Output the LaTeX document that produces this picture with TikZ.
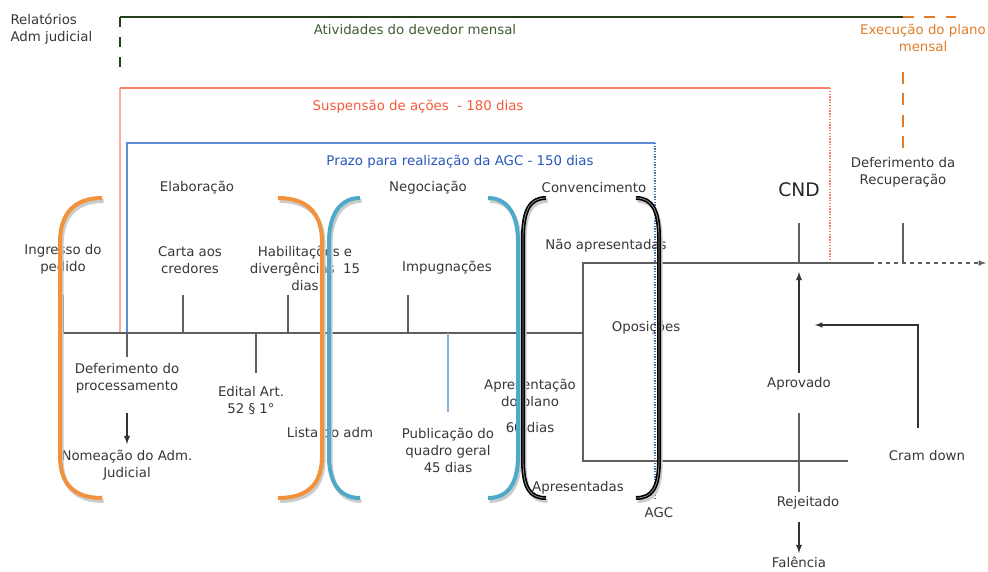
\documentclass[tikz,border=0pt]{standalone}
\usepackage{fontspec}
\setmainfont{DejaVu Sans}
\usepackage{tikz}
\definecolor{txtgray}{RGB}{55,55,55}
\definecolor{lngray}{RGB}{95,95,95}
\definecolor{dgreen}{RGB}{34,62,26}
\definecolor{tgreen}{RGB}{62,92,52}
\definecolor{planorange}{RGB}{222,126,42}
\definecolor{brorange}{RGB}{242,146,62}
\definecolor{salmon}{RGB}{250,128,108}
\definecolor{salmonlt}{RGB}{250,170,160}
\definecolor{tsalmon}{RGB}{248,88,58}
\definecolor{agcblue}{RGB}{96,140,214}
\definecolor{tblue}{RGB}{40,86,186}
\definecolor{brteal}{RGB}{78,170,200}
\definecolor{ltblue}{RGB}{140,178,226}
\tikzset{every picture/.style={line width=0.75pt}}
\tikzset{
txt/.style={align=center, inner sep=0pt, text=txtgray, font=\fontsize{10}{12.75}\selectfont},
tick/.style={draw=lngray, line width=1.1pt},
flow/.style={draw=lngray, line width=0.9pt},
arrw/.style={draw=black!80, line width=1.1pt, -latex},
brkt/.style={line width=3pt, preaction={draw=black!20, line width=3pt, transform canvas={xshift=1.2pt, yshift=-2.2pt}}}
}

\begin{document}
\begin{tikzpicture}[x=0.75pt,y=0.75pt,yscale=-1,xscale=1]
\useasboundingbox (0,0) rectangle (988,571);

%Straight Lines: devedor mensal
\draw[dgreen, line width=1.6pt] (120,17) -- (903,17) ;
\draw[dgreen, line width=2pt, dash pattern=on 7.5pt off 7.5pt] (120,17) -- (120,73) ;
%Straight Lines: execucao do plano
\draw[planorange, line width=2pt, dash pattern=on 8pt off 8pt] (903,17) -- (962,17) ;
\draw[planorange, line width=2pt, dash pattern=on 9pt off 7pt] (903,72) -- (903,153) ;
%Straight Lines: suspensao
\draw[salmonlt, line width=1.1pt] (120,333) -- (120,88) ;
\draw[salmon, line width=1.1pt] (120,88) -- (830,88) ;
\draw[salmon, line width=1.1pt, densely dotted] (830,88) -- (830,263) ;
%Straight Lines: prazo AGC
\draw[agcblue, line width=1.1pt] (127,333) -- (127,143) -- (655,143) ;
\draw[agcblue!80!black, line width=1pt, densely dotted] (655,143) -- (655,500) ;

%Straight Lines: timeline
\draw[tick] (63,333) -- (583,333) ;
\draw[tick] (63,333) -- (63,295) ;
\draw[tick] (183,333) -- (183,295) ;
\draw[tick] (288,333) -- (288,295) ;
\draw[tick] (408,333) -- (408,295) ;
\draw[tick] (127,333) -- (127,357) ;
\draw[tick] (256,333) -- (256,373) ;
\draw[ltblue, line width=1pt] (448,333) -- (448,412) ;

%Straight Lines: AGC
\draw[flow] (870,263) -- (583,263) -- (583,461) -- (848,461) ;
\draw[flow, dashed, -latex] (870,263) -- (986,263) ;
\draw[flow] (799,263) -- (799,223) ;
\draw[flow] (903,263) -- (903,223) ;

% Text Node
\node[txt, anchor=west, align=left] (relat) at (10,29) {Relatórios\\Adm judicial};
\node[txt, text=tgreen] (ativ) at (415,30) {Atividades do devedor mensal};
\node[txt, text=planorange] (exec) at (923,38) {Execução do plano\\mensal};
\node[txt, text=tsalmon] (susp) at (418,107) {Suspensão de ações\ \ - 180 dias};
\node[txt, text=tblue] (prazo) at (460,162) {Prazo para realização da AGC - 150 dias};
\node[txt] (elab) at (197,188) {Elaboração};
\node[txt] (negoc) at (428,188) {Negociação};
\node[txt] (conv) at (594,188) {Convencimento};
\node[txt, font=\fontsize{14}{16}\selectfont, text=black!85] (cnd) at (799,190) {CND};
\node[txt] (defrec) at (903,172) {Deferimento da\\Recuperação};
\node[txt] (ingresso) at (63,259) {Ingresso do\\pedido};
\node[txt] (carta) at (190,260) {Carta aos\\credores};
\node[txt] (habil) at (305,268) {Habilitações e\\divergências\ \ 15\\dias};
\node[txt] (impug) at (447,268) {Impugnações};
\node[txt] (naoapr) at (606,246) {Não apresentadas};
\node[txt] (oposic) at (646,328) {Oposições};
\node[txt] (deferproc) at (127,378) {Deferimento do\\processamento};
\node[txt] (edital) at (251,401) {Edital Art.\\52 § 1°};
\node[txt] (lista) at (330,433) {Lista do adm};
\node[txt] (public) at (448,450) {Publicação do\\quadro geral\\45 dias};
\node[txt] (apres) at (530,394) {Apresentação\\do plano};
\node[txt] (sessenta) at (530,428) {60 dias};
\node[txt] (apresentadas) at (578,488) {Apresentadas};
\node[txt] (agc) at (659,513) {AGC};
\node[txt] (nomeacao) at (127,465) {Nomeação do Adm.\\Judicial};
\node[txt] (aprovado) at (799,384) {Aprovado};
\node[txt] (rejeitado) at (808,503) {Rejeitado};
\node[txt] (falencia) at (799,562) {Falência};
\node[txt] (cram) at (927,456) {Cram down};

%Coordinates for connectors
\coordinate (nomTop) at (127,413) ;
\coordinate (nomTip) at (127,444) ;
\coordinate (aprBase) at (799,373) ;
\coordinate (aprTip) at (799,272) ;
\coordinate (rejTop) at (799,413) ;
\coordinate (rejBot) at (799,492) ;
\coordinate (falTop) at (799,522) ;
\coordinate (falTip) at (799,553) ;
\coordinate (cramBase) at (918,428) ;
\coordinate (cramTip) at (815,325) ;

%Straight Lines: arrows
\draw[arrw] (nomTop) -- (nomTip) ;
\draw[arrw] (aprBase) -- (aprTip) ;
\draw[flow, line width=1.1pt] (rejTop) -- (rejBot) ;
\draw[arrw] (falTop) -- (falTip) ;
\draw[arrw, line width=0.9pt] (cramBase) |- (cramTip) ;

%Shape: Brackets elaboracao
\draw[brkt, brorange] (102,198) .. controls (74,198) and (60,214) .. (60,242) -- (60,456) .. controls (60,484) and (74,498) .. (102,498) ;
\draw[brkt, brorange] (278,198) .. controls (308,198) and (322,214) .. (322,242) -- (322,456) .. controls (322,484) and (308,498) .. (278,498) ;
%Shape: Brackets negociacao
\draw[brkt, brteal] (360,198) .. controls (342,198) and (329,212) .. (329,242) -- (329,456) .. controls (329,486) and (342,498) .. (360,498) ;
\draw[brkt, brteal] (488,198) .. controls (506,198) and (518,212) .. (518,242) -- (518,456) .. controls (518,486) and (506,498) .. (488,498) ;
%Shape: Brackets convencimento
\draw[brkt, black, postaction={draw=black!45, line width=0.6pt}] (546,198) .. controls (530,198) and (523,210) .. (523,238) -- (523,460) .. controls (523,488) and (530,498) .. (546,498) ;
\draw[brkt, black, postaction={draw=black!45, line width=0.6pt}] (636,198) .. controls (652,198) and (659,210) .. (659,238) -- (659,460) .. controls (659,488) and (652,498) .. (636,498) ;

\end{tikzpicture}
\end{document}
